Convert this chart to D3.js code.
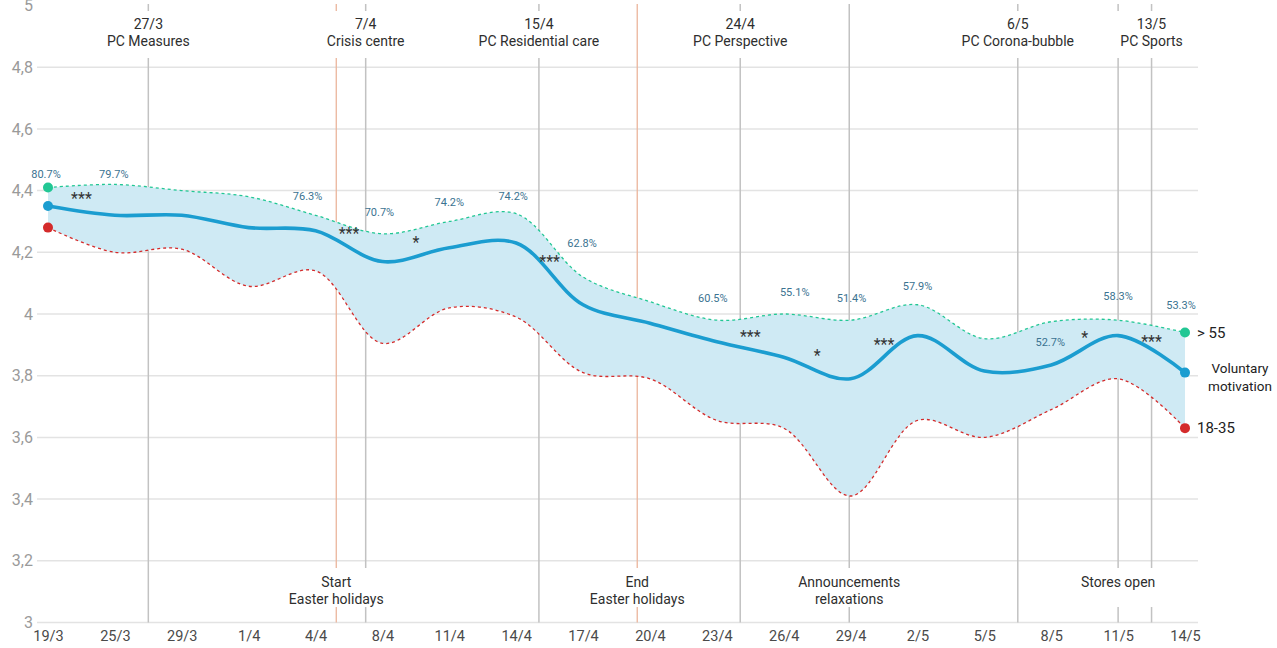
<!DOCTYPE html>
<html>
<head>
<meta charset="utf-8">
<script src="https://cdn.jsdelivr.net/npm/d3@7"></script>
<style>
  html, body { margin: 0; padding: 0; background: #fff; }
  svg { display: block; font-family: Roboto, "Liberation Sans", sans-serif; }
</style>
</head>
<body>
<svg id="chart" width="1277" height="648"></svg>
<script>
// Survey waves (x categories)
const dates = ["19/3","25/3","29/3","1/4","4/4","8/4","11/4","14/4","17/4","20/4","23/4","26/4","29/4","2/5","5/5","8/5","11/5","14/5"];

// Mean voluntary motivation, all respondents
const motivation = [4.35,4.32,4.32,4.28,4.27,4.17,4.215,4.23,4.03,3.97,3.91,3.86,3.79,3.93,3.815,3.835,3.93,3.81];
// Respondents older than 55
const older = [4.41,4.42,4.40,4.38,4.32,4.26,4.30,4.325,4.12,4.04,3.98,4.00,3.98,4.03,3.92,3.975,3.98,3.94];
// Respondents aged 18-35
const younger = [4.28,4.20,4.21,4.09,4.14,3.905,4.02,3.99,3.81,3.79,3.655,3.63,3.41,3.655,3.60,3.69,3.79,3.63];

// Share of motivated respondents per wave
const pctLabels = ["80.7%","79.7%",null,null,"76.3%","70.7%","74.2%","74.2%","62.8%",null,"60.5%","55.1%","51.4%","57.9%",null,"52.7%","58.3%","53.3%"];

// Significance of the change between consecutive waves
const significance = ["***","","","","***","*","","***","","","***","*","***","","","*","***"];

const yTicks = [3,3.2,3.4,3.6,3.8,4,4.2,4.4,4.6,4.8];

// Events, positioned in wave units
const eventPos   = [1.5, 4.31, 4.75, 7.34, 8.81, 10.35, 11.98, 14.5, 16.0, 16.5];
const eventDate  = ["27/3", null, "7/4", "15/4", null, "24/4", null, "6/5", null, "13/5"];
const eventName  = ["PC Measures", "Start|Easter holidays", "Crisis centre", "PC Residential care", "End|Easter holidays", "PC Perspective", "Announcements|relaxations", "PC Corona-bubble", "Stores open", "PC Sports"];
const eventSide  = ["top","bottom","top","top","bottom","top","bottom","top","bottom","top"];
const eventKind  = ["policy","holiday","policy","policy","holiday","policy","policy","policy","policy","policy"];

// Label placement tweaks (pixels) for the percentage annotations
const pctDy = [-13,-10,0,0,-19,-22,-19,-18,-34,0,-22,-22,-22,-19,0,20,-24,-27];
const pctDx = [-2,-1,0,0,-8,-3,0,-3,-1,0,-4,11,1,0,0,-1,0,-4];

const colors = {
  main: "#1b9dd0",
  older: "#22c794",
  younger: "#d42b2b",
  band: "#cfeaf4",
  grid: "#e3e3e3",
  policy: "#c2c2c2",
  holiday: "#ebb59c",
  pct: "#3b7391"
};

const svg = d3.select("#chart");
const x = d3.scaleLinear().domain([0, dates.length - 1]).range([48, 1185]);
const y = d3.scaleLinear().domain([3, 5]).range([622.5, 5.5]);
const curve = d3.curveCatmullRom.alpha(0.5);

// Grid
svg.append("g").selectAll("line").data(yTicks).join("line")
  .attr("x1", 37).attr("x2", 1198)
  .attr("y1", d => y(d)).attr("y2", d => y(d))
  .attr("stroke", colors.grid).attr("stroke-width", 1.5);

// Y axis labels
const fmt = v => (Math.round(v * 10) / 10).toString().replace(".", ",");
const yAxis = svg.append("g").attr("transform", "translate(37,0)")
  .call(d3.axisLeft(y).tickValues([...yTicks, 5]).tickSize(0).tickPadding(4).tickFormat(fmt));
yAxis.select(".domain").remove();
yAxis.selectAll("text").attr("font-size", 16).attr("fill", "#9a9a9a").attr("font-family", "Roboto");

// X axis labels
const xAxis = svg.append("g").attr("transform", "translate(0,622.5)")
  .call(d3.axisBottom(x).tickValues(d3.range(dates.length)).tickSize(0).tickPadding(8).tickFormat(i => dates[i]));
xAxis.select(".domain").remove();
xAxis.selectAll("text").attr("font-size", 14.5).attr("fill", "#4a4a4a").attr("font-family", "Roboto");

// Event lines
const events = eventPos.map((p, i) => ({
  pos: p, date: eventDate[i], lines: eventName[i].split("|"), side: eventSide[i], kind: eventKind[i]
}));
svg.append("g").selectAll("line").data(events).join("line")
  .attr("x1", d => x(d.pos)).attr("x2", d => x(d.pos))
  .attr("y1", 4).attr("y2", 622.5)
  .attr("stroke", d => colors[d.kind]).attr("stroke-width", d => d.kind === "holiday" ? 1.3 : 1.5);

// Event labels with a white backing so the lines break around them
const labelLayer = svg.append("g");
events.forEach(ev => {
  const g = labelLayer.append("g");
  const rows = ev.side === "top" ? [ev.date, ...ev.lines] : ev.lines;
  const y0 = ev.side === "top" ? 24 : 582;
  const t = g.append("text")
    .attr("text-anchor", "middle")
    .attr("font-size", 14)
    .attr("fill", "#2e2e2e");
  rows.forEach((r, k) => {
    t.append("tspan").attr("x", x(ev.pos)).attr("y", y0 + k * 17).attr("dy", "0.35em").text(r);
  });
  const bb = t.node().getBBox();
  const top = ev.side === "top" ? 11 : 568;
  const bottom = ev.side === "top" ? 58 : 607;
  g.insert("rect", "text")
    .attr("x", bb.x - 6).attr("width", bb.width + 12)
    .attr("y", top).attr("height", bottom - top)
    .attr("fill", "#fff");
});

// Band between the two age groups
const idx = d3.range(dates.length);
svg.append("path")
  .datum(idx)
  .attr("d", d3.area().curve(curve).x(i => x(i)).y0(i => y(younger[i])).y1(i => y(older[i])))
  .attr("fill", colors.band);

// Age-group lines
const lineOf = arr => d3.line().curve(curve).x(i => x(i)).y(i => y(arr[i]));
svg.append("path").datum(idx).attr("d", lineOf(older))
  .attr("fill", "none").attr("stroke", colors.older).attr("stroke-width", 1.3).attr("stroke-dasharray", "3,3");
svg.append("path").datum(idx).attr("d", lineOf(younger))
  .attr("fill", "none").attr("stroke", colors.younger).attr("stroke-width", 1.3).attr("stroke-dasharray", "3,3");

// Main line
svg.append("path").datum(idx).attr("d", lineOf(motivation))
  .attr("fill", "none").attr("stroke", colors.main).attr("stroke-width", 3.6)
  .attr("stroke-linecap", "round");

// End points
const last = dates.length - 1;
[[older, colors.older], [motivation, colors.main], [younger, colors.younger]].forEach(([arr, c]) => {
  svg.append("g").selectAll("circle").data([0, last]).join("circle")
    .attr("cx", i => x(i)).attr("cy", i => y(arr[i])).attr("r", 5).attr("fill", c);
});

// Percentage labels
svg.append("g").selectAll("text")
  .data(idx.filter(i => pctLabels[i]))
  .join("text")
  .attr("x", i => x(i) + pctDx[i])
  .attr("y", i => y(older[i]) + pctDy[i])
  .attr("dy", "0.35em")
  .attr("text-anchor", "middle")
  .attr("font-size", 11)
  .attr("fill", colors.pct)
  .text(i => pctLabels[i]);

// Significance markers between waves
svg.append("g").selectAll("text")
  .data(d3.range(significance.length).filter(i => significance[i]))
  .join("text")
  .attr("x", i => x(i + 0.5))
  .attr("y", i => y((motivation[i] + motivation[i + 1]) / 2) - 7)
  .attr("text-anchor", "middle")
  .attr("font-size", 16)
  .attr("fill", "#333")
  .text(i => significance[i]);

// Series labels
const lx = x(last) + 12;
svg.append("text").attr("x", lx).attr("y", y(older[last])).attr("dy", "0.35em")
  .attr("font-size", 15).attr("fill", "#222").text("> 55");
svg.append("text").attr("x", lx).attr("y", y(younger[last])).attr("dy", "0.35em")
  .attr("font-size", 15).attr("fill", "#222").text("18-35");
const vm = svg.append("text").attr("text-anchor", "middle").attr("font-size", 13.5).attr("fill", "#222");
vm.append("tspan").attr("x", 1240).attr("y", 368).attr("dy", "0.35em").text("Voluntary");
vm.append("tspan").attr("x", 1240).attr("y", 386).attr("dy", "0.35em").text("motivation");
</script>
</body>
</html>
